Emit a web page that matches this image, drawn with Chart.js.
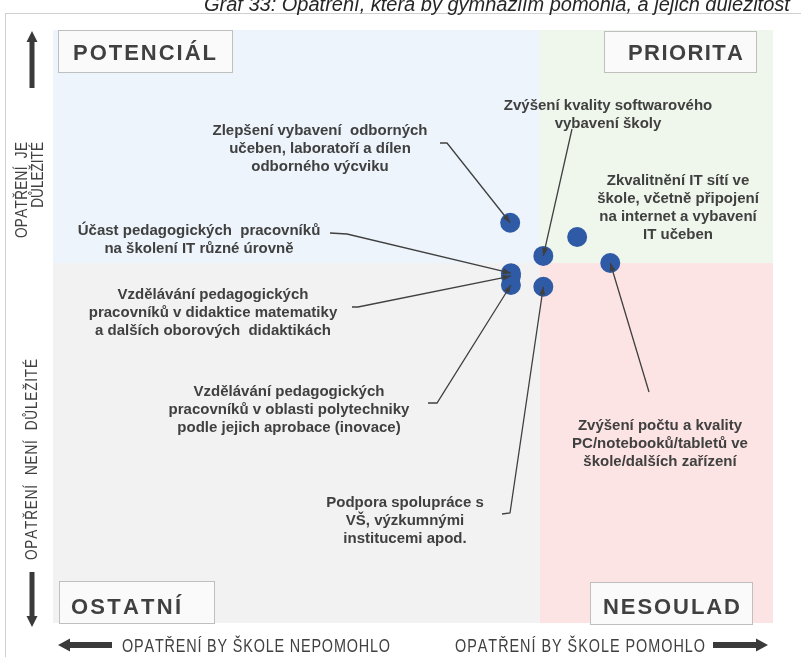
<!DOCTYPE html>
<html><head><meta charset="utf-8">
<style>html,body{margin:0;padding:0;background:#fff;overflow:hidden}#wrap{width:801px;height:657px;position:relative}</style>
<script src="https://cdn.jsdelivr.net/npm/chart.js@4/dist/chart.umd.min.js"></script>
</head><body><div id="wrap"><canvas id="c"></canvas></div>
<script>
// ---------- DATA ----------
const titleText = 'Graf 33: Opatření, která by gymnáziím pomohla, a jejich důležitost';
const categories = [
  'Zlepšení vybavení odborných učeben, laboratoří a dílen odborného výcviku',
  'Zkvalitnění IT sítí ve škole, včetně připojení na internet a vybavení IT učeben',
  'Zvýšení kvality softwarového vybavení školy',
  'Zvýšení počtu a kvality PC/notebooků/tabletů ve škole/dalších zařízení',
  'Účast pedagogických pracovníků na školení IT různé úrovně',
  'Vzdělávání pedagogických pracovníků v didaktice matematiky a dalších oborových didaktikách',
  'Vzdělávání pedagogických pracovníků v oblasti polytechniky podle jejich aprobace (inovace)',
  'Podpora spolupráce s VŠ, výzkumnými institucemi apod.'
];
const labelLines = [
  ['Zlepšení vybavení  odborných', 'učeben, laboratoří a dílen', 'odborného výcviku'],
  ['Zkvalitnění IT sítí ve', 'škole, včetně připojení', 'na internet a vybavení', 'IT učeben'],
  ['Zvýšení kvality softwarového', 'vybavení školy'],
  ['Zvýšení počtu a kvality', 'PC/notebooků/tabletů ve', 'škole/dalších zařízení'],
  ['Účast pedagogických  pracovníků', 'na školení IT různé úrovně'],
  ['Vzdělávání pedagogických', 'pracovníků v didaktice matematiky', 'a dalších oborových  didaktikách'],
  ['Vzdělávání pedagogických', 'pracovníků v oblasti polytechniky', 'podle jejich aprobace (inovace)'],
  ['Podpora spolupráce s', 'VŠ, výzkumnými', 'institucemi apod.']
];
const helpValues = [63.5, 72.8, 68.1, 77.4, 63.6, 63.6, 63.6, 68.1];       // pomoc škole (x)
const importanceValues = [67.5, 65.1, 61.9, 60.7, 59.0, 58.5, 57.0, 56.7]; // důležitost (y)
const helpSplit = 67.6;
const importanceSplit = 60.7;
const quadrantNames = ['POTENCIÁL', 'PRIORITA', 'OSTATNÍ', 'NESOULAD'];
const axisTexts = ['OPATŘENÍ BY ŠKOLE NEPOMOHLO', 'OPATŘENÍ BY ŠKOLE POMOHLO',
                   'OPATŘENÍ  JE', 'DŮLEŽITÉ', 'OPATŘENÍ  NENÍ  DŮLEŽITÉ'];

// ---------- LAYOUT (positions / styles) ----------
const TXT = '#404040';
const labelLayout = [
  {cx: 320, y: 130, lead: [[440,143],[447,143]]},
  {cx: 678, y: 180, lead: null},
  {cx: 608, y: 105, lead: [[572,129],[572,129]]},
  {cx: 660, y: 425, lead: [[649,392],[649,392]]},
  {cx: 199, y: 230, lead: [[330,233],[347,234]]},
  {cx: 213, y: 294, lead: [[352,307],[358,307]]},
  {cx: 289, y: 391, lead: [[428,403],[437,403]]},
  {cx: 405, y: 502, lead: [[502,514],[510,513]]}
];
const boxLayout = [
  {x: 58, y: 30, w: 175, h: 43, tx: 73, ty: 60, tw: 143},
  {x: 604, y: 31, w: 153, h: 42, tx: 628, ty: 60, tw: 115},
  {x: 59, y: 581, w: 156, h: 43, tx: 71, ty: 614, tw: 110},
  {x: 590, y: 582, w: 163, h: 43, tx: 603, ty: 614, tw: 137}
];

function spaced(ctx, text, x, y, width, sx) {
  sx = sx || 1;
  const chars = [...text];
  const ws = chars.map(c => ctx.measureText(c).width * sx);
  const tot = ws.reduce((a, b) => a + b, 0);
  const sp = (width && chars.length > 1) ? (width - tot) / (chars.length - 1) : 0;
  let cx = x;
  chars.forEach((c, i) => {
    ctx.save(); ctx.translate(cx, y); ctx.scale(sx, 1); ctx.fillText(c, 0, 0); ctx.restore();
    cx += ws[i] + sp;
  });
  return tot;
}
function blockArrow(ctx, x1, y1, x2, y2, shaft, headW, headL) {
  const dx = x2 - x1, dy = y2 - y1, L = Math.hypot(dx, dy);
  const ux = dx / L, uy = dy / L, nx = -uy, ny = ux;
  const bx = x2 - ux * headL, by = y2 - uy * headL;
  ctx.beginPath();
  ctx.moveTo(x1 + nx * shaft / 2, y1 + ny * shaft / 2);
  ctx.lineTo(bx + nx * shaft / 2, by + ny * shaft / 2);
  ctx.lineTo(bx + nx * headW / 2, by + ny * headW / 2);
  ctx.lineTo(x2, y2);
  ctx.lineTo(bx - nx * headW / 2, by - ny * headW / 2);
  ctx.lineTo(bx - nx * shaft / 2, by - ny * shaft / 2);
  ctx.lineTo(x1 - nx * shaft / 2, y1 - ny * shaft / 2);
  ctx.closePath();
  ctx.fill();
}

const decor = {
  id: 'decor',
  beforeDraw(chart) {
    const ctx = chart.ctx, a = chart.chartArea;
    const xs = chart.scales.x, ys = chart.scales.y;
    ctx.save();
    ctx.fillStyle = '#fff'; ctx.fillRect(0, 0, chart.width, chart.height);
    // frame
    ctx.strokeStyle = '#D0D0D0'; ctx.lineWidth = 1;
    ctx.strokeRect(5.5, 13.5, 820, 700);
    // title (clipped at top)
    ctx.fillStyle = '#262626';
    ctx.font = 'italic 20px "Liberation Sans", Arial, sans-serif';
    ctx.textBaseline = 'alphabetic'; ctx.textAlign = 'left';
    ctx.fillText(titleText, 204, 11);
    // quadrants
    const mx = xs.getPixelForValue(helpSplit), my = ys.getPixelForValue(importanceSplit);
    ctx.fillStyle = '#EDF4FB'; ctx.fillRect(a.left, a.top, mx - a.left, my - a.top);
    ctx.fillStyle = '#EFF6EC'; ctx.fillRect(mx, a.top, a.right - mx, my - a.top);
    ctx.fillStyle = '#F2F2F2'; ctx.fillRect(a.left, my, mx - a.left, a.bottom - my);
    ctx.fillStyle = '#FDE4E4'; ctx.fillRect(mx, my, a.right - mx, a.bottom - my);
    // quadrant boxes
    boxLayout.forEach((b, i) => {
      ctx.fillStyle = '#FAFAFA'; ctx.fillRect(b.x, b.y, b.w, b.h);
      ctx.strokeStyle = '#BFBFBF'; ctx.lineWidth = 1;
      ctx.strokeRect(b.x + 0.5, b.y + 0.5, b.w - 1, b.h - 1);
      ctx.fillStyle = TXT;
      ctx.font = 'bold 22px "Liberation Sans", Arial, sans-serif';
      spaced(ctx, quadrantNames[i], b.tx, b.ty, b.tw);
    });
    // axis arrows
    ctx.fillStyle = '#3A3A3A';
    blockArrow(ctx, 32, 88, 32, 31, 5, 11, 11);
    blockArrow(ctx, 32, 572, 32, 627, 5, 11, 11);
    blockArrow(ctx, 112, 645, 58, 645, 6, 13, 12);
    blockArrow(ctx, 713, 645, 768, 645, 6, 13, 12);
    // axis texts (narrow)
    ctx.fillStyle = TXT;
    const NS = 0.8;
    ctx.font = '18px "Liberation Sans", Arial, sans-serif';
    spaced(ctx, axisTexts[0], 122, 652, 268, NS);
    spaced(ctx, axisTexts[1], 455, 652, 250, NS);
    ctx.font = '17px "Liberation Sans", Arial, sans-serif';
    ctx.save(); ctx.translate(27, 238); ctx.rotate(-Math.PI / 2);
    spaced(ctx, axisTexts[2], 0, 0, 96, NS); ctx.restore();
    const w2 = [...axisTexts[3]].reduce((s, c) => s + ctx.measureText(c).width * NS, 0);
    ctx.save(); ctx.translate(43, 142 + w2); ctx.rotate(-Math.PI / 2);
    spaced(ctx, axisTexts[3], 0, 0, null, NS); ctx.restore();
    ctx.save(); ctx.translate(37, 560); ctx.rotate(-Math.PI / 2);
    spaced(ctx, axisTexts[4], 0, 0, 201, NS); ctx.restore();
    // annotation labels
    ctx.font = 'bold 15px "Liberation Sans", Arial, sans-serif';
    ctx.textAlign = 'center'; ctx.fillStyle = TXT;
    labelLayout.forEach((L, i) => {
      labelLines[i].forEach((t, k) => ctx.fillText(t, L.cx, L.y + 5 + k * 18));
    });
    ctx.restore();
  },
  afterDatasetsDraw(chart) {
    const ctx = chart.ctx, xs = chart.scales.x, ys = chart.scales.y;
    ctx.save();
    ctx.strokeStyle = '#404040'; ctx.fillStyle = '#404040'; ctx.lineWidth = 1.3;
    labelLayout.forEach((L, i) => {
      if (!L.lead) return;
      const px = xs.getPixelForValue(helpValues[i]), py = ys.getPixelForValue(importanceValues[i]);
      const [s, e] = L.lead;
      ctx.beginPath(); ctx.moveTo(s[0], s[1]); ctx.lineTo(e[0], e[1]); ctx.lineTo(px, py); ctx.stroke();
      const dx = px - e[0], dy = py - e[1], d = Math.hypot(dx, dy), ux = dx / d, uy = dy / d;
      const hl = 8, hw = 3;
      ctx.beginPath();
      ctx.moveTo(px, py);
      ctx.lineTo(px - ux * hl - uy * hw, py - uy * hl + ux * hw);
      ctx.lineTo(px - ux * hl + uy * hw, py - uy * hl - ux * hw);
      ctx.closePath(); ctx.fill();
    });
    ctx.restore();
  }
};

new Chart(document.getElementById('c'), {
  type: 'scatter',
  data: {
    datasets: [{
      label: 'Opatření',
      data: helpValues.map((v, i) => ({x: v, y: importanceValues[i], name: categories[i]})),
      backgroundColor: '#2F5AA6', borderWidth: 0, pointRadius: 10, pointHoverRadius: 10
    }]
  },
  options: {
    responsive: true, maintainAspectRatio: false, animation: false,
    layout: {padding: {left: 53, right: 28, top: 30, bottom: 34}},
    scales: {
      x: {type: 'linear', min: 0, max: 100, display: false},
      y: {type: 'linear', min: 0, max: 100, display: false}
    },
    plugins: {legend: {display: false}, tooltip: {enabled: false}, title: {display: false}}
  },
  plugins: [decor]
});
</script></body></html>
